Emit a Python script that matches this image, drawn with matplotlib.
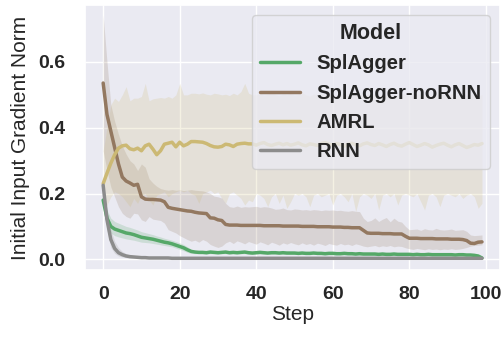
import matplotlib
matplotlib.use("Agg")
import matplotlib.pyplot as plt
import seaborn as sns

sns.set_theme(style="darkgrid")
plt.rcParams["font.family"] = ["Liberation Sans", "DejaVu Sans"]

steps = list(range(100))

models = ["SplAgger", "SplAgger-noRNN", "AMRL", "RNN"]

splagger_mean = [
    0.180, 0.125, 0.100, 0.092, 0.088, 0.084, 0.080, 0.078, 0.075, 0.071,
    0.067, 0.065, 0.063, 0.061, 0.058, 0.055, 0.052, 0.050, 0.047, 0.043,
    0.039, 0.035, 0.029, 0.024, 0.022, 0.021, 0.021, 0.020, 0.022, 0.021,
    0.020, 0.021, 0.022, 0.020, 0.021, 0.020, 0.021, 0.022, 0.020, 0.019,
    0.020, 0.021, 0.020, 0.019, 0.020, 0.020, 0.019, 0.020, 0.019, 0.019,
    0.019, 0.018, 0.019, 0.018, 0.018, 0.019, 0.018, 0.018, 0.017, 0.018,
    0.018, 0.017, 0.017, 0.018, 0.017, 0.017, 0.016, 0.017, 0.016, 0.016,
    0.016, 0.016, 0.015, 0.016, 0.015, 0.015, 0.016, 0.015, 0.015, 0.015,
    0.015, 0.014, 0.015, 0.014, 0.014, 0.015, 0.014, 0.014, 0.014, 0.014,
    0.014, 0.014, 0.013, 0.014, 0.014, 0.013, 0.013, 0.012, 0.010, 0.004,
]
splagger_lo = [
    0.150, 0.100, 0.080, 0.072, 0.068, 0.065, 0.062, 0.060, 0.058, 0.055,
    0.052, 0.051, 0.050, 0.048, 0.046, 0.044, 0.042, 0.040, 0.038, 0.034,
    0.030, 0.026, 0.021, 0.018, 0.017, 0.017, 0.017, 0.016, 0.017, 0.017,
    0.016, 0.017, 0.017, 0.016, 0.017, 0.016, 0.017, 0.017, 0.016, 0.015,
    0.016, 0.017, 0.016, 0.015, 0.016, 0.016, 0.015, 0.016, 0.015, 0.015,
    0.015, 0.014, 0.015, 0.014, 0.014, 0.015, 0.014, 0.014, 0.013, 0.014,
    0.014, 0.013, 0.013, 0.014, 0.013, 0.013, 0.012, 0.013, 0.012, 0.012,
    0.012, 0.012, 0.011, 0.012, 0.011, 0.011, 0.012, 0.011, 0.011, 0.011,
    0.011, 0.010, 0.011, 0.010, 0.010, 0.011, 0.010, 0.010, 0.010, 0.010,
    0.010, 0.010, 0.009, 0.010, 0.010, 0.009, 0.009, 0.008, 0.006, 0.001,
]
splagger_hi = [
    0.210, 0.150, 0.125, 0.115, 0.110, 0.105, 0.100, 0.097, 0.093, 0.089,
    0.084, 0.081, 0.078, 0.075, 0.071, 0.068, 0.064, 0.061, 0.058, 0.054,
    0.050, 0.045, 0.038, 0.030, 0.027, 0.025, 0.025, 0.024, 0.027, 0.025,
    0.024, 0.025, 0.027, 0.024, 0.025, 0.024, 0.025, 0.026, 0.024, 0.023,
    0.024, 0.025, 0.024, 0.023, 0.024, 0.024, 0.023, 0.024, 0.023, 0.023,
    0.023, 0.022, 0.023, 0.022, 0.022, 0.023, 0.022, 0.022, 0.021, 0.022,
    0.022, 0.021, 0.021, 0.022, 0.021, 0.021, 0.020, 0.021, 0.020, 0.020,
    0.020, 0.020, 0.019, 0.020, 0.019, 0.019, 0.020, 0.019, 0.019, 0.019,
    0.019, 0.018, 0.019, 0.018, 0.018, 0.019, 0.018, 0.018, 0.018, 0.018,
    0.018, 0.018, 0.017, 0.018, 0.018, 0.017, 0.017, 0.016, 0.014, 0.008,
]

nornn_mean = [
    0.536, 0.440, 0.390, 0.340, 0.290, 0.250, 0.238, 0.232, 0.225, 0.228,
    0.190, 0.183, 0.182, 0.182, 0.181, 0.180, 0.175, 0.158, 0.155, 0.153,
    0.151, 0.149, 0.147, 0.146, 0.143, 0.141, 0.140, 0.139, 0.126, 0.125,
    0.120, 0.118, 0.106, 0.104, 0.104, 0.104, 0.103, 0.103, 0.103, 0.103,
    0.103, 0.103, 0.102, 0.102, 0.102, 0.102, 0.102, 0.101, 0.101, 0.101,
    0.101, 0.101, 0.100, 0.100, 0.100, 0.100, 0.099, 0.099, 0.099, 0.099,
    0.098, 0.098, 0.098, 0.097, 0.097, 0.096, 0.096, 0.096, 0.088, 0.080,
    0.079, 0.079, 0.079, 0.078, 0.078, 0.078, 0.077, 0.077, 0.077, 0.070,
    0.064, 0.064, 0.064, 0.063, 0.063, 0.063, 0.063, 0.062, 0.062, 0.062,
    0.062, 0.061, 0.061, 0.061, 0.060, 0.057, 0.049, 0.048, 0.052, 0.053,
]
nornn_lo = [
    0.330, 0.270, 0.220, 0.190, 0.160, 0.140, 0.130, 0.125, 0.140, 0.138,
    0.120, 0.115, 0.130, 0.122, 0.120, 0.118, 0.110, 0.090, 0.085, 0.080,
    0.072, 0.066, 0.060, 0.055, 0.058, 0.052, 0.060, 0.055, 0.045, 0.040,
    0.036, 0.040, 0.050, 0.055, 0.048, 0.056, 0.052, 0.047, 0.054, 0.050,
    0.046, 0.053, 0.049, 0.044, 0.052, 0.048, 0.043, 0.050, 0.046, 0.051,
    0.047, 0.044, 0.050, 0.045, 0.048, 0.043, 0.049, 0.046, 0.042, 0.048,
    0.045, 0.043, 0.048, 0.044, 0.046, 0.042, 0.047, 0.044, 0.040, 0.038,
    0.040, 0.042, 0.038, 0.041, 0.039, 0.042, 0.038, 0.040, 0.039, 0.035,
    0.032, 0.030, 0.033, 0.031, 0.029, 0.032, 0.030, 0.031, 0.029, 0.031,
    0.030, 0.032, 0.030, 0.031, 0.033, 0.036, 0.040, 0.042, 0.043, 0.044,
]
nornn_hi = [
    0.743, 0.600, 0.470, 0.420, 0.380, 0.345, 0.320, 0.300, 0.290, 0.270,
    0.290, 0.280, 0.245, 0.232, 0.222, 0.215, 0.212, 0.210, 0.212, 0.210,
    0.211, 0.209, 0.210, 0.212, 0.210, 0.209, 0.208, 0.205, 0.200, 0.192,
    0.190, 0.186, 0.170, 0.160, 0.158, 0.162, 0.158, 0.160, 0.159, 0.160,
    0.161, 0.158, 0.160, 0.159, 0.156, 0.152, 0.153, 0.156, 0.151, 0.150,
    0.153, 0.152, 0.150, 0.151, 0.149, 0.151, 0.150, 0.148, 0.150, 0.149,
    0.150, 0.148, 0.149, 0.147, 0.146, 0.148, 0.146, 0.145, 0.125, 0.115,
    0.118, 0.126, 0.115, 0.122, 0.127, 0.114, 0.125, 0.116, 0.113, 0.100,
    0.090, 0.091, 0.092, 0.088, 0.093, 0.090, 0.089, 0.094, 0.090, 0.089,
    0.090, 0.092, 0.088, 0.089, 0.090, 0.085, 0.074, 0.072, 0.073, 0.074,
]

amrl_mean = [
    0.230, 0.262, 0.292, 0.318, 0.338, 0.345, 0.347, 0.336, 0.333, 0.338,
    0.330, 0.345, 0.350, 0.335, 0.318, 0.330, 0.350, 0.353, 0.356, 0.342,
    0.356, 0.345, 0.350, 0.358, 0.358, 0.357, 0.356, 0.352, 0.346, 0.342,
    0.341, 0.343, 0.350, 0.348, 0.343, 0.350, 0.352, 0.353, 0.351, 0.351,
    0.347, 0.352, 0.355, 0.349, 0.346, 0.350, 0.353, 0.348, 0.352, 0.347,
    0.350, 0.354, 0.348, 0.345, 0.351, 0.349, 0.346, 0.352, 0.355, 0.350,
    0.347, 0.352, 0.349, 0.344, 0.350, 0.353, 0.348, 0.345, 0.351, 0.354,
    0.349, 0.346, 0.352, 0.348, 0.343, 0.349, 0.353, 0.347, 0.344, 0.350,
    0.355, 0.349, 0.343, 0.347, 0.352, 0.348, 0.341, 0.346, 0.350, 0.353,
    0.347, 0.342, 0.348, 0.352, 0.346, 0.340, 0.344, 0.349, 0.347, 0.352,
]
amrl_lo = [
    0.150, 0.165, 0.190, 0.205, 0.200, 0.190, 0.175, 0.160, 0.185, 0.170,
    0.195, 0.200, 0.180, 0.165, 0.195, 0.200, 0.205, 0.190, 0.200, 0.205,
    0.210, 0.205, 0.210, 0.200, 0.195, 0.170, 0.200, 0.205, 0.210, 0.200,
    0.205, 0.185, 0.170, 0.200, 0.205, 0.195, 0.185, 0.165, 0.180, 0.175,
    0.200, 0.195, 0.185, 0.160, 0.190, 0.200, 0.170, 0.195, 0.155, 0.175,
    0.200, 0.195, 0.200, 0.190, 0.160, 0.195, 0.200, 0.190, 0.195, 0.200,
    0.165, 0.195, 0.200, 0.190, 0.175, 0.200, 0.145, 0.190, 0.200, 0.195,
    0.185, 0.200, 0.150, 0.195, 0.200, 0.190, 0.200, 0.165, 0.195, 0.200,
    0.195, 0.190, 0.200, 0.175, 0.150, 0.195, 0.200, 0.190, 0.160, 0.195,
    0.200, 0.195, 0.190, 0.200, 0.185, 0.195, 0.200, 0.190, 0.155, 0.170,
]
amrl_hi = [
    0.330, 0.400, 0.470, 0.490, 0.480, 0.500, 0.525, 0.482, 0.490, 0.490,
    0.495, 0.535, 0.482, 0.488, 0.490, 0.492, 0.490, 0.495, 0.490, 0.500,
    0.535, 0.500, 0.500, 0.505, 0.505, 0.503, 0.506, 0.502, 0.500, 0.505,
    0.503, 0.500, 0.502, 0.498, 0.505, 0.500, 0.510, 0.535, 0.505, 0.500,
    0.500, 0.505, 0.498, 0.502, 0.508, 0.500, 0.497, 0.503, 0.500, 0.505,
    0.498, 0.502, 0.507, 0.500, 0.496, 0.503, 0.500, 0.505, 0.499, 0.502,
    0.500, 0.497, 0.504, 0.501, 0.498, 0.506, 0.500, 0.503, 0.499, 0.501,
    0.505, 0.500, 0.497, 0.502, 0.500, 0.504, 0.498, 0.501, 0.505, 0.500,
    0.498, 0.503, 0.500, 0.506, 0.499, 0.501, 0.497, 0.503, 0.500, 0.502,
    0.500, 0.504, 0.498, 0.501, 0.505, 0.499, 0.502, 0.500, 0.497, 0.501,
]

rnn_mean = [
    0.225, 0.120, 0.060, 0.033, 0.020, 0.014, 0.010, 0.008, 0.007, 0.006,
    0.005, 0.005, 0.004, 0.004, 0.004, 0.004, 0.004, 0.004, 0.003, 0.003,
    0.003, 0.003, 0.003, 0.003, 0.003, 0.003, 0.003, 0.003, 0.003, 0.003,
    0.003, 0.003, 0.003, 0.003, 0.003, 0.003, 0.003, 0.003, 0.003, 0.003,
    0.003, 0.003, 0.003, 0.003, 0.003, 0.003, 0.003, 0.003, 0.003, 0.003,
    0.003, 0.003, 0.003, 0.003, 0.003, 0.003, 0.003, 0.003, 0.003, 0.003,
    0.003, 0.003, 0.003, 0.003, 0.003, 0.003, 0.003, 0.003, 0.003, 0.003,
    0.003, 0.003, 0.003, 0.003, 0.003, 0.003, 0.003, 0.003, 0.003, 0.003,
    0.003, 0.003, 0.003, 0.003, 0.003, 0.003, 0.003, 0.003, 0.003, 0.003,
    0.003, 0.003, 0.003, 0.003, 0.003, 0.003, 0.003, 0.003, 0.003, 0.003,
]
rnn_lo = [
    0.220, 0.090, 0.036, 0.018, 0.010, 0.007, 0.005, 0.004, 0.004, 0.003,
    0.003, 0.003, 0.002, 0.002, 0.002, 0.002, 0.002, 0.002, 0.002, 0.002,
    0.002, 0.002, 0.002, 0.002, 0.002, 0.002, 0.002, 0.002, 0.002, 0.002,
    0.002, 0.002, 0.002, 0.002, 0.002, 0.002, 0.002, 0.002, 0.002, 0.002,
    0.002, 0.002, 0.002, 0.002, 0.002, 0.002, 0.002, 0.002, 0.002, 0.002,
    0.002, 0.002, 0.002, 0.002, 0.002, 0.002, 0.002, 0.002, 0.002, 0.002,
    0.002, 0.002, 0.002, 0.002, 0.002, 0.002, 0.002, 0.002, 0.002, 0.002,
    0.002, 0.002, 0.002, 0.002, 0.002, 0.002, 0.002, 0.002, 0.002, 0.002,
    0.002, 0.002, 0.002, 0.002, 0.002, 0.002, 0.002, 0.002, 0.002, 0.002,
    0.002, 0.002, 0.002, 0.002, 0.002, 0.002, 0.002, 0.002, 0.002, 0.002,
]
rnn_hi = [
    0.230, 0.150, 0.090, 0.055, 0.035, 0.024, 0.017, 0.013, 0.011, 0.009,
    0.008, 0.007, 0.006, 0.006, 0.005, 0.005, 0.005, 0.005, 0.004, 0.004,
    0.004, 0.004, 0.004, 0.004, 0.004, 0.004, 0.004, 0.004, 0.004, 0.004,
    0.004, 0.004, 0.004, 0.004, 0.004, 0.004, 0.004, 0.004, 0.004, 0.004,
    0.004, 0.004, 0.004, 0.004, 0.004, 0.004, 0.004, 0.004, 0.004, 0.004,
    0.004, 0.004, 0.004, 0.004, 0.004, 0.004, 0.004, 0.004, 0.004, 0.004,
    0.004, 0.004, 0.004, 0.004, 0.004, 0.004, 0.004, 0.004, 0.004, 0.004,
    0.004, 0.004, 0.004, 0.004, 0.004, 0.004, 0.004, 0.004, 0.004, 0.004,
    0.004, 0.004, 0.004, 0.004, 0.004, 0.004, 0.004, 0.004, 0.004, 0.004,
    0.004, 0.004, 0.004, 0.004, 0.004, 0.004, 0.004, 0.004, 0.004, 0.004,
]

colors = ["#55A868", "#937860", "#CCB974", "#8C8C8C"]
series = [
    (splagger_mean, splagger_lo, splagger_hi),
    (nornn_mean, nornn_lo, nornn_hi),
    (amrl_mean, amrl_lo, amrl_hi),
    (rnn_mean, rnn_lo, rnn_hi),
]

x_ticks = [0, 20, 40, 60, 80, 100]
y_ticks = [0.0, 0.2, 0.4, 0.6]

fig = plt.figure(figsize=(5.04, 3.4), dpi=100)
ax = fig.add_axes([0.169, 0.205, 0.823, 0.780])

for name, color, (mean, lo, hi) in zip(models, colors, series):
    ax.plot(steps, mean, color=color, lw=2.5, label=name)
    ax.fill_between(steps, lo, hi, color=color, alpha=0.2, lw=0)

ax.set_xlim(-4.7, 103.7)
ax.set_ylim(-0.0335, 0.773)
ax.set_xticks(x_ticks)
ax.set_xticklabels([str(t) for t in x_ticks])
ax.set_yticks(y_ticks)
ax.set_yticklabels([f"{t:.1f}" for t in y_ticks])
ax.tick_params(axis="x", length=0, pad=11, labelsize=14)
ax.tick_params(axis="y", length=0, pad=14, labelsize=14)
for lab in ax.get_xticklabels() + ax.get_yticklabels():
    lab.set_fontweight("bold")

ax.set_xlabel("Step", fontsize=15, labelpad=2)
ax.set_ylabel("Initial Input Gradient Norm", fontsize=15, labelpad=6)

leg = ax.legend(
    title="Model",
    loc="upper right",
    prop={"weight": "bold", "size": 14.6},
    title_fontproperties={"weight": "bold", "size": 15.5},
    frameon=True,
    borderaxespad=0.5,
)
leg.get_frame().set_alpha(0.8)

fig.savefig("out.png", dpi=100)
